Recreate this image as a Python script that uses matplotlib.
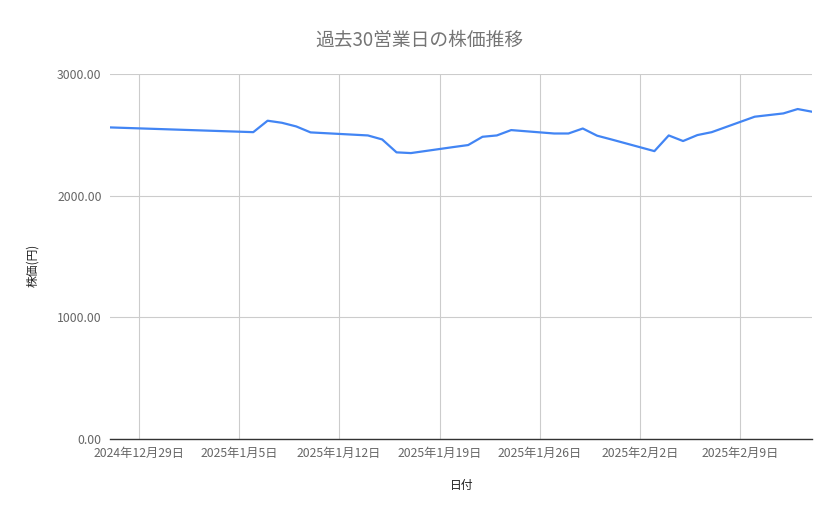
import matplotlib
matplotlib.use("Agg")
import matplotlib.pyplot as plt
import datetime as dt

plt.rcParams['font.family'] = ['Noto Sans CJK JP', 'DejaVu Sans']

BLUE = '#4285F4'
GRID = '#cccccc'
TXT = '#666666'

dates = [
    "2024-12-27",
    "2025-01-06", "2025-01-07", "2025-01-08", "2025-01-09", "2025-01-10",
    "2025-01-14", "2025-01-15", "2025-01-16", "2025-01-17",
    "2025-01-20", "2025-01-21", "2025-01-22", "2025-01-23", "2025-01-24",
    "2025-01-27", "2025-01-28", "2025-01-29", "2025-01-30", "2025-01-31",
    "2025-02-03", "2025-02-04", "2025-02-05", "2025-02-06", "2025-02-07",
    "2025-02-10", "2025-02-12", "2025-02-13", "2025-02-14",
]
prices = [
    2561,
    2522, 2616, 2599, 2569, 2520,
    2495, 2462, 2356, 2350,
    2400, 2416, 2484, 2495, 2539,
    2511, 2511, 2552, 2493, 2462,
    2366, 2495, 2449, 2498, 2522,
    2649, 2676, 2712, 2690,
]
tick_dates = ["2024-12-29", "2025-01-05", "2025-01-12", "2025-01-19",
              "2025-01-26", "2025-02-02", "2025-02-09"]
tick_labels = ["2024年12月29日", "2025年1月5日", "2025年1月12日", "2025年1月19日",
               "2025年1月26日", "2025年2月2日", "2025年2月9日"]
yticks = [0, 1000, 2000, 3000]

x = [dt.datetime.strptime(d, "%Y-%m-%d") for d in dates]
xt = [dt.datetime.strptime(d, "%Y-%m-%d") for d in tick_dates]

fig = plt.figure(figsize=(8.39, 5.19), dpi=100)
ax = fig.add_axes([110/839, 80/519, (812-110)/839, (439-74)/519])

ax.plot(x, prices, color=BLUE, linewidth=1.6, solid_joinstyle='round')

ax.set_xlim(x[0], x[-1])
ax.set_ylim(0, 3000)
ax.set_xticks(xt)
ax.set_xticklabels(tick_labels)
ax.set_yticks(yticks)
ax.set_yticklabels([f"{v:.2f}" for v in yticks])
ax.grid(True, color=GRID, linewidth=0.8)
ax.set_axisbelow(True)

for side in ['top', 'right', 'left']:
    ax.spines[side].set_visible(False)
ax.spines['bottom'].set_color('#333333')
ax.spines['bottom'].set_linewidth(1.0)
ax.tick_params(axis='both', length=0, labelsize=8.8, colors=TXT, pad=6)

fig.text(0.5, 1 - 40/519, "過去30営業日の株価推移", fontsize=13.5, color='#757575',
         ha='center', va='center')
fig.text(462/839, 1 - 486/519, "日付", fontsize=8.5, color='#222222',
         ha='center', va='center')
fig.text(33/839, 1 - 265/519, "株価(円)", fontsize=8.5, color='#222222',
         ha='center', va='center', rotation=90)

fig.savefig("out.png", dpi=100)
